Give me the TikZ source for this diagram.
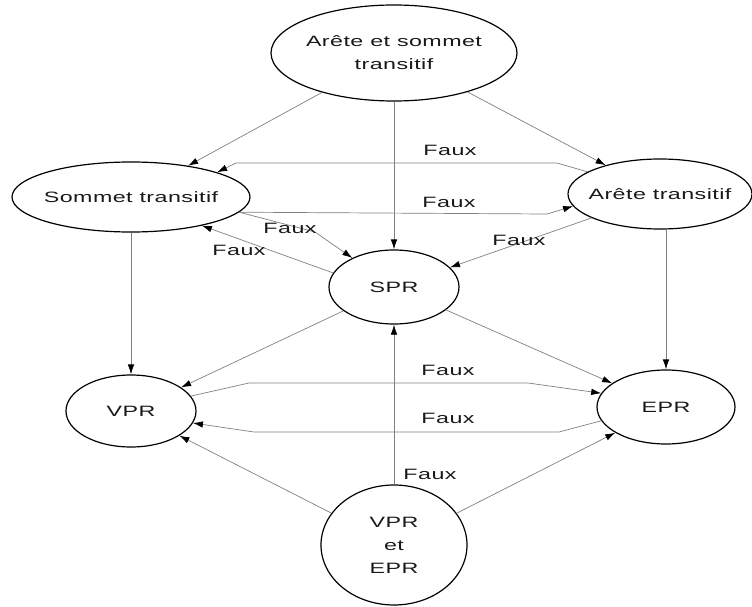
\documentclass[tikz,border=0pt]{standalone}
\usepackage{fontspec}
\setmainfont{Liberation Sans}[FakeStretch=1.55,LetterSpace=3]
\usetikzlibrary{shapes.geometric,arrows.meta}
\begin{document}
\begin{tikzpicture}[x=1pt,y=-1pt,
  every node/.style={font=\fontsize{15}{23}\selectfont, text=black!90},
  ell/.style={draw=black, line width=1.2pt, ellipse, inner xsep=-10pt, inner ysep=0pt, align=center},
  conn/.style={draw=black!50, line width=0.7pt, -{Latex[length=10pt,width=6.5pt,color=black]}},
  lbl/.style={inner sep=0pt}]
\useasboundingbox (0,0) rectangle (752,607);
% nodes
\node[ell, minimum width=246pt, minimum height=96pt] (top) at (394,53) {Arête et sommet\\transitif};
\node[ell, minimum width=238pt, minimum height=70pt] (somm) at (131,197) {Sommet transitif};
\node[ell, minimum width=184pt, minimum height=70pt] (aret) at (660,194) {Arête transitif};
\node[ell, minimum width=130pt, minimum height=74pt] (spr) at (394,287) {SPR};
\node[ell, minimum width=130pt, minimum height=72pt] (vpr) at (131,411) {VPR};
\node[ell, minimum width=138pt, minimum height=74pt] (epr) at (666,407) {EPR};
\node[ell, minimum width=146pt, minimum height=120pt] (vpe) at (394,545) {VPR\\et\\EPR};
% bend points
\coordinate (b1) at (557,163);
\coordinate (b2) at (236,163);
\coordinate (b3) at (315,232);
\coordinate (b4) at (547,214);
\coordinate (b5) at (249,383);
\coordinate (b6) at (528,383);
\coordinate (b7) at (559,432);
\coordinate (b8) at (254,432);
% connectors
\draw[conn] (top) -- (somm);
\draw[conn] (top) -- (aret);
\draw[conn] (top) -- (spr);
\draw[conn] (aret.163) -- (b1) -- (b2) -- (somm.16);
\draw[conn] (somm.-8) -- (b4) -- (aret.188);
\draw[conn] (somm.-8) -- (b3) -- (spr);
\draw[conn] (spr.167) -- (somm.-22);
\draw[conn] (aret) -- (spr);
\draw[conn] (somm.south) -- (vpr.north);
\draw[conn] (aret.south -| epr.north) -- (epr.north);
\draw[conn] (spr) -- (vpr);
\draw[conn] (spr) -- (epr);
\draw[conn] (vpr.14) -- (b5) -- (b6) -- (epr.168);
\draw[conn] (epr.192) -- (b7) -- (b8) -- (vpr.-11);
\draw[conn] (vpe) -- (spr);
\draw[conn] (vpe) -- (vpr);
\draw[conn] (vpe) -- (epr);
% labels
\node[lbl] (f1) at (450,150) {Faux};
\node[lbl] (f2) at (449,202) {Faux};
\node[lbl] (f3) at (290,228) {Faux};
\node[lbl] (f4) at (239,250) {Faux};
\node[lbl] (f5) at (519,240) {Faux};
\node[lbl] (f6) at (448,370) {Faux};
\node[lbl] (f7) at (448,418) {Faux};
\node[lbl] (f8) at (430,474) {Faux};
\end{tikzpicture}
\end{document}
